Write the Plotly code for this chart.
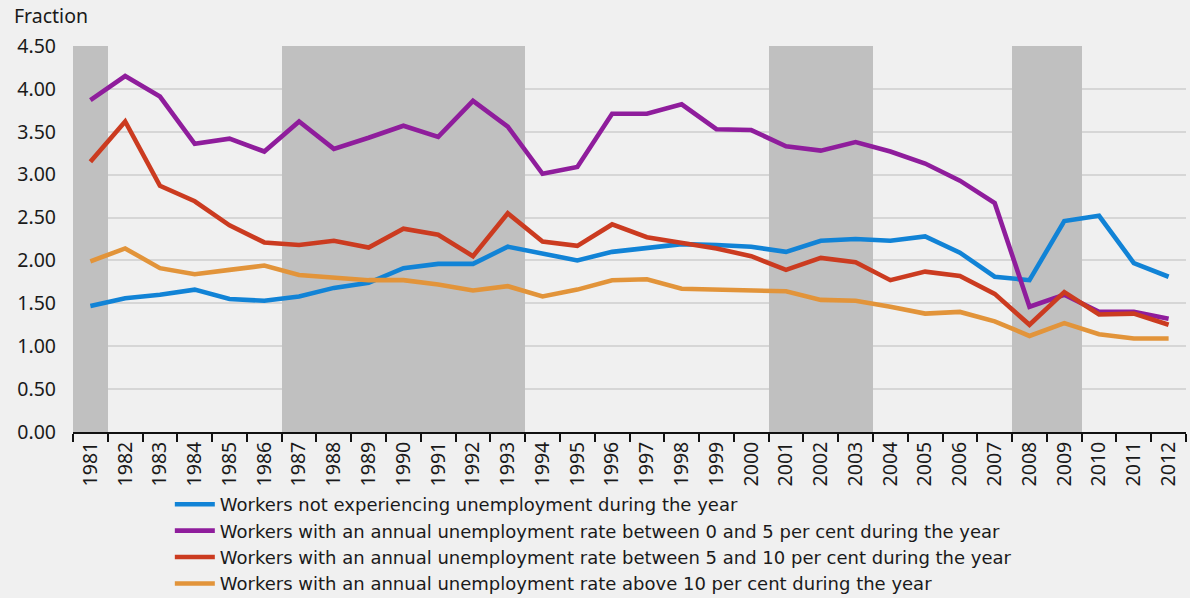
import plotly.graph_objects as go

years = [str(y) for y in range(1981, 2013)]
recession_years = ["1981", "1987", "1988", "1989", "1990", "1991", "1992", "1993",
                   "2001", "2002", "2003", "2008", "2009"]
shade_top = 4.5

no_unemp = [1.47, 1.56, 1.60, 1.66, 1.55, 1.53, 1.58, 1.68, 1.74, 1.91, 1.96, 1.96, 2.16, 2.08,
            2.00, 2.10, 2.15, 2.19, 2.18, 2.16, 2.10, 2.23, 2.25, 2.23, 2.28, 2.09, 1.81, 1.77,
            2.46, 2.52, 1.97, 1.81]
rate_0_5 = [3.87, 4.15, 3.91, 3.36, 3.42, 3.27, 3.62, 3.30, 3.43, 3.57, 3.44, 3.86, 3.56, 3.01,
            3.09, 3.71, 3.71, 3.82, 3.53, 3.52, 3.33, 3.28, 3.38, 3.27, 3.13, 2.93, 2.67, 1.46,
            1.60, 1.40, 1.40, 1.32]
rate_5_10 = [3.15, 3.62, 2.87, 2.69, 2.41, 2.21, 2.18, 2.23, 2.15, 2.37, 2.30, 2.05, 2.55, 2.22,
             2.17, 2.42, 2.27, 2.21, 2.14, 2.05, 1.89, 2.03, 1.98, 1.77, 1.87, 1.82, 1.61, 1.25,
             1.63, 1.37, 1.38, 1.25]
rate_10 = [1.99, 2.14, 1.91, 1.84, 1.89, 1.94, 1.83, 1.80, 1.77, 1.77, 1.72, 1.65, 1.70, 1.58,
           1.66, 1.77, 1.78, 1.67, 1.66, 1.64, 1.64, 1.54, 1.53, 1.46, 1.38, 1.40, 1.29, 1.12,
           1.27, 1.14, 1.09, 1.09]

names = [
    "Workers not experiencing unemployment during the year",
    "Workers with an annual unemployment rate between 0 and 5 per cent during the year",
    "Workers with an annual unemployment rate between 5 and 10 per cent during the year",
    "Workers with an annual unemployment rate above 10 per cent during the year",
]
colors = ["#1183d6", "#8f1d9c", "#cb3b20", "#e2943a"]
series = [no_unemp, rate_0_5, rate_5_10, rate_10]

FONT = "'Noto Sans', sans-serif"
LEGEND_FONT = "'DejaVu Sans', sans-serif"

fig = go.Figure()
fig.add_trace(go.Bar(
    x=years,
    y=[shade_top if y in recession_years else 0 for y in years],
    marker=dict(color="#c0c0c0", line=dict(width=0)),
    width=1.0, showlegend=False, hoverinfo="skip",
))
for name, vals, col in zip(names, series, colors):
    fig.add_trace(go.Scatter(
        x=years, y=vals, mode="lines", name=name,
        line=dict(color=col, width=4.6),
    ))

fig.update_layout(
    width=1190, height=598,
    margin=dict(l=73, r=4, t=46, b=166, autoexpand=False),
    paper_bgcolor="#f0f0f0", plot_bgcolor="#f0f0f0",
    font=dict(family=FONT, color="#1a1a1a", size=17),
    bargap=0,
    showlegend=True,
    legend=dict(
        orientation="v", x=0.087, xanchor="left", y=-0.14, yanchor="top",
        font=dict(size=18, family=LEGEND_FONT), bgcolor="rgba(0,0,0,0)",
        tracegroupgap=0, itemwidth=40,
    ),
    xaxis=dict(
        type="category", tickangle=-90, tickson="boundaries",
        ticks="outside", ticklen=8, tickwidth=1.5, tickcolor="#111",
        showline=True, linecolor="#111", linewidth=2, automargin=False,
        showgrid=False, tickfont=dict(size=19.5), range=[-0.5, 31.5],
    ),
    yaxis=dict(
        range=[0, 4.5], dtick=0.5, tickformat=".2f", automargin=False,
        showgrid=True, gridcolor="#d6d6d6", gridwidth=1.5,
        zeroline=False, showline=False, ticks="",
        tickfont=dict(size=19.5), ticklabelstandoff=16,
    ),
    annotations=[dict(
        text="Fraction", xref="paper", yref="paper", x=-0.055, y=1.04,
        xanchor="left", yanchor="bottom", showarrow=False,
        font=dict(size=19.5, family=FONT),
    )],
)

fig.write_html(
    "out.html",
    config={"displayModeBar": False},
    post_script="document.body.style.margin='0';document.body.style.background='#f0f0f0';",
)
